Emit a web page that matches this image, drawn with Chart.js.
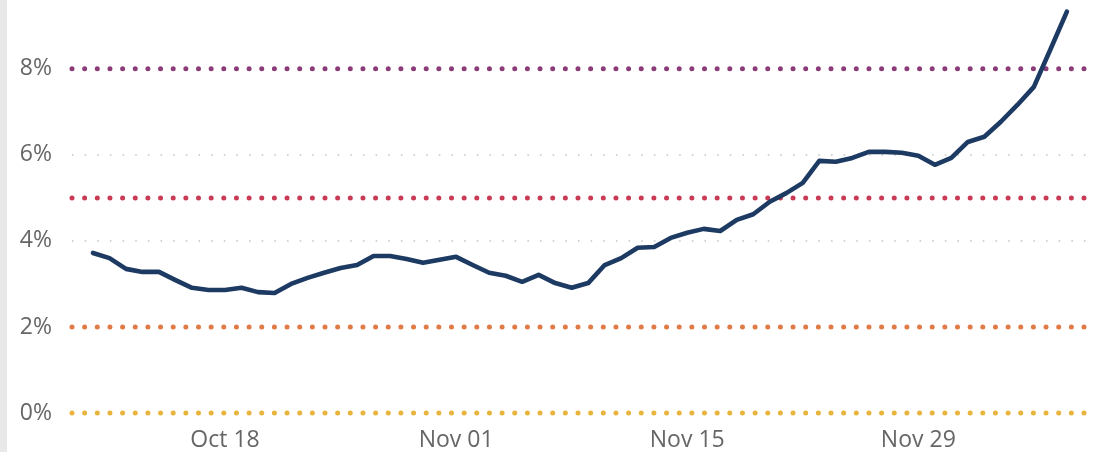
<!DOCTYPE html>
<html>
<head>
<meta charset="utf-8">
<script src="https://cdn.jsdelivr.net/npm/chart.js@4"></script>
<style>
    html, body { margin: 0; padding: 0; background: #fff; }
    #wrap { position: relative; width: 1096px; height: 452px; }
    #edge { position: absolute; left: 0; top: 0; width: 7px; height: 452px; background: #e8e8e8; }
</style>
</head>
<body>
<div id="wrap">
    <div id="edge"></div>
    <canvas id="rateChart" width="1096" height="452"></canvas>
</div>
<script>
// Daily dates, Oct 10 .. Dec 08
const days = [
    'Oct 10', 'Oct 11', 'Oct 12', 'Oct 13', 'Oct 14', 'Oct 15', 'Oct 16', 'Oct 17', 'Oct 18', 'Oct 19',
    'Oct 20', 'Oct 21', 'Oct 22', 'Oct 23', 'Oct 24', 'Oct 25', 'Oct 26', 'Oct 27', 'Oct 28', 'Oct 29',
    'Oct 30', 'Oct 31', 'Nov 01', 'Nov 02', 'Nov 03', 'Nov 04', 'Nov 05', 'Nov 06', 'Nov 07', 'Nov 08',
    'Nov 09', 'Nov 10', 'Nov 11', 'Nov 12', 'Nov 13', 'Nov 14', 'Nov 15', 'Nov 16', 'Nov 17', 'Nov 18',
    'Nov 19', 'Nov 20', 'Nov 21', 'Nov 22', 'Nov 23', 'Nov 24', 'Nov 25', 'Nov 26', 'Nov 27', 'Nov 28',
    'Nov 29', 'Nov 30', 'Dec 01', 'Dec 02', 'Dec 03', 'Dec 04', 'Dec 05', 'Dec 06', 'Dec 07', 'Dec 08'
];

// Positivity rate (%)
const rate = [
    3.72, 3.60, 3.35, 3.28, 3.28, 3.09, 2.91, 2.86, 2.86, 2.91,
    2.81, 2.79, 3.00, 3.14, 3.26, 3.37, 3.44, 3.65, 3.65, 3.58,
    3.49, 3.56, 3.63, 3.44, 3.26, 3.19, 3.05, 3.21, 3.02, 2.91,
    3.02, 3.44, 3.60, 3.84, 3.86, 4.07, 4.19, 4.28, 4.23, 4.49,
    4.62, 4.91, 5.11, 5.35, 5.86, 5.84, 5.93, 6.07, 6.07, 6.05,
    5.98, 5.77, 5.93, 6.30, 6.42, 6.77, 7.16, 7.58, 8.45, 9.33
];

// Threshold lines
const thresholdValues = [8, 5, 2, 0];
const thresholdColors = ['#8a3b78', '#c93a55', '#e07a46', '#e9b43c'];

const xTickLabels = ['Oct 18', 'Nov 01', 'Nov 15', 'Nov 29'];
const yTicks = [0, 2, 4, 6, 8];

const X_MIN = -1.27;
const X_MAX = 60.4;

document.addEventListener('DOMContentLoaded', function() {
    const ctx = document.getElementById('rateChart');

    const lineData = rate.map((v, i) => ({ x: i, y: v }));

    const thresholdSets = thresholdValues.map((v, i) => ({
        data: [{ x: X_MIN, y: v }, { x: X_MAX, y: v }],
        borderColor: thresholdColors[i],
        borderWidth: 5,
        borderDash: [0, 12.65],
        borderCapStyle: 'round',
        pointRadius: 0,
        fill: false,
        clip: false,
        order: 2
    }));

    new Chart(ctx, {
        type: 'line',
        data: {
            datasets: [{
                data: lineData,
                borderColor: '#1d3a63',
                borderWidth: 4.6,
                borderJoinStyle: 'round',
                borderCapStyle: 'round',
                pointRadius: 0,
                tension: 0,
                fill: false,
                clip: false,
                order: 1
            }].concat(thresholdSets)
        },
        options: {
            responsive: false,
            animation: false,
            layout: { padding: { left: 0, right: 6, top: 0, bottom: 0 } },
            plugins: {
                legend: { display: false },
                tooltip: { enabled: false }
            },
            scales: {
                x: {
                    type: 'linear',
                    min: X_MIN,
                    max: X_MAX,
                    afterBuildTicks: function(scale) {
                        scale.ticks = xTickLabels.map(l => ({ value: days.indexOf(l) }));
                    },
                    afterFit: function(scale) {
                        scale.height = 39;
                        scale.paddingLeft = 0;
                        scale.paddingRight = 0;
                    },
                    ticks: {
                        autoSkip: false,
                        maxRotation: 0,
                        padding: 6,
                        color: '#666',
                        font: { family: 'Open Sans', size: 23 },
                        callback: function(value) { return days[value]; }
                    },
                    grid: { display: false },
                    border: { display: false }
                },
                y: {
                    min: 0,
                    max: 9.6,
                    afterBuildTicks: function(scale) {
                        scale.ticks = yTicks.map(v => ({ value: v }));
                    },
                    afterFit: function(scale) {
                        scale.width = 72;
                        scale.paddingTop = 0;
                        scale.paddingBottom = 0;
                    },
                    ticks: {
                        padding: 20,
                        color: '#666',
                        font: { family: 'Open Sans', size: 23 },
                        callback: function(value) { return value + '%'; }
                    },
                    grid: {
                        drawTicks: false,
                        lineWidth: 2,
                        color: function(c) {
                            const v = c.tick && c.tick.value;
                            return (v === 4 || v === 6) ? '#d2d2d2' : 'rgba(0,0,0,0)';
                        }
                    },
                    border: { display: false, dash: [1.5, 11.15] }
                }
            }
        }
    });
});
</script>
</body>
</html>
